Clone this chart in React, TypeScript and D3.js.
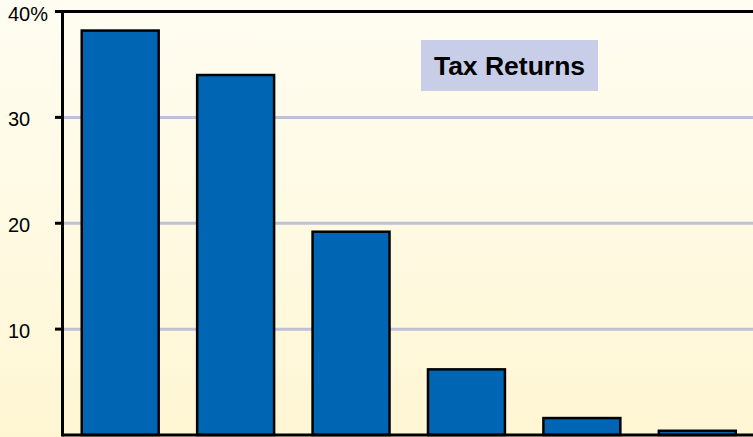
import React from "react"
import { scaleBand, scaleLinear } from "d3"

const width = 753
const height = 437

// bracket names are not printed on the chart
const categories = ["A", "B", "C", "D", "E", "F"]
const shares = [38.2, 34.0, 19.2, 6.2, 1.6, 0.4]
const yTicks = [10, 20, 30, 40]
const title = "Tax Returns"

const margin = { top: 11.5, right: -2, bottom: 2, left: 62.5 }

function App() {
  const innerBottom = height - margin.bottom

  const xScale = scaleBand<string>()
    .domain(categories)
    .range([margin.left, width - margin.right])
    .paddingInner(1 / 3)
    .paddingOuter(1 / 6)

  const yScale = scaleLinear()
    .domain([0, 40])
    .range([innerBottom, margin.top])

  return (
    <div style={{ position: "absolute", left: 0, top: 0 }}>
      <svg width={width} height={height} style={{ display: "block" }}>
        <defs>
          <linearGradient id="bg" x1="0" y1="0" x2="0" y2="1">
            <stop offset="0%" stopColor="#fffdf2" />
            <stop offset="100%" stopColor="#fef6d3" />
          </linearGradient>
        </defs>
        <rect width={width} height={height} fill="url(#bg)" />

        {/* grid lines */}
        {yTicks.filter(t => t < 40).map(t => (
          <line
            key={"g" + t}
            x1={margin.left}
            x2={width}
            y1={yScale(t)}
            y2={yScale(t)}
            stroke="#bfc1d8"
            strokeWidth={3}
          />
        ))}

        {/* title box */}
        <rect x={421} y={40} width={177} height={51} fill="#c8cee8" />
        <text
          x={509.5}
          y={75}
          textAnchor="middle"
          fontFamily="'Liberation Sans', Arial, sans-serif"
          fontWeight="bold"
          fontSize={26.5}
          fill="#000"
        >{title}</text>

        {/* bars */}
        {shares.map((v, i) => (
          <rect
            key={categories[i]}
            x={xScale(categories[i])}
            y={yScale(v)}
            width={xScale.bandwidth()}
            height={innerBottom - yScale(v)}
            fill="#0066b3"
            stroke="#000"
            strokeWidth={2.5}
          />
        ))}

        {/* axes */}
        <line x1={margin.left} x2={width} y1={yScale(40)} y2={yScale(40)} stroke="#000" strokeWidth={3} />
        <line x1={margin.left} x2={width} y1={innerBottom} y2={innerBottom} stroke="#000" strokeWidth={3} />
        <line x1={margin.left} x2={margin.left} y1={yScale(40) - 1.5} y2={innerBottom + 1.5} stroke="#000" strokeWidth={3} />

        {yTicks.map(t => (
          <g key={"t" + t} transform={`translate(0, ${yScale(t)})`}>
            <line x1={55} x2={margin.left} stroke="#000" strokeWidth={3} />
            <text
              x={8}
              y={9}
              fontFamily="'Liberation Sans', Arial, sans-serif"
              fontSize={20}
              fill="#000"
            >{t === 40 ? t + "%" : t}</text>
          </g>
        ))}
      </svg>
    </div>
  )
}

export default App
